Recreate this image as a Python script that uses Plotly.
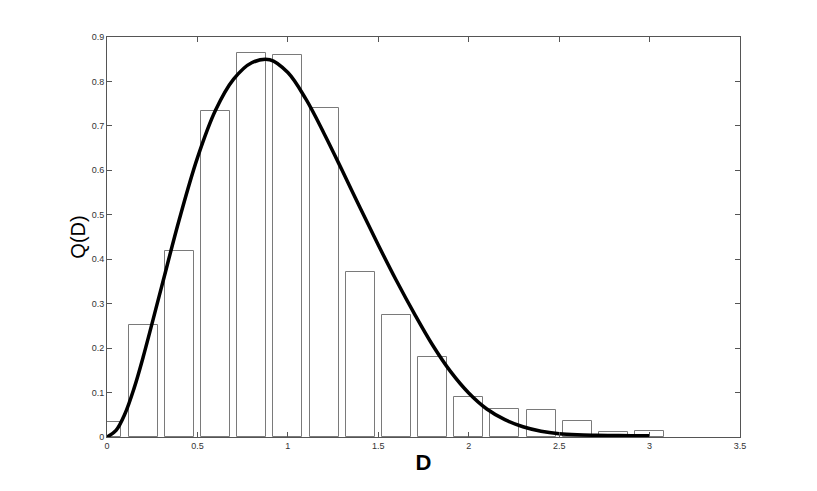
import plotly.graph_objects as go

# histogram bins (centres) and heights
bin_centres = [0.0, 0.2, 0.4, 0.6, 0.8, 1.0, 1.2, 1.4, 1.6, 1.8, 2.0, 2.2, 2.4, 2.6, 2.8, 3.0]
bin_heights = [0.033, 0.253, 0.418, 0.734, 0.863, 0.860, 0.740, 0.372, 0.275, 0.180,
               0.091, 0.064, 0.060, 0.037, 0.011, 0.014]

# fitted curve
curve_d = [0.0, 0.05, 0.1, 0.15, 0.2, 0.3, 0.4, 0.5, 0.6, 0.7, 0.8, 0.9, 1.0,
           1.1, 1.2, 1.3, 1.4, 1.5, 1.6, 1.7, 1.8, 1.9, 2.0, 2.1, 2.2, 2.3, 2.4,
           2.5, 2.6, 2.7, 2.8, 2.9, 3.0]
curve_q = [0.0, 0.015, 0.053, 0.11, 0.18, 0.335, 0.49, 0.628, 0.735, 0.805, 0.842,
           0.849, 0.820, 0.760, 0.683, 0.600, 0.515, 0.432, 0.352, 0.277, 0.207, 0.147,
           0.099, 0.063, 0.039, 0.023, 0.013, 0.0075, 0.005, 0.004, 0.0035, 0.003, 0.003]

x_ticks = [0, 0.5, 1, 1.5, 2, 2.5, 3, 3.5]
x_labels = ["0", "0.5", "1", "1.5", "2", "2.5", "3", "3.5"]
y_ticks = [0, 0.1, 0.2, 0.3, 0.4, 0.5, 0.6, 0.7, 0.8, 0.9]
y_labels = ["0", "0.1", "0.2", "0.3", "0.4", "0.5", "0.6", "0.7", "0.8", "0.9"]

fig = go.Figure()
fig.add_trace(go.Bar(
    x=bin_centres,
    y=bin_heights,
    width=0.16,
    marker=dict(color="white", line=dict(color="#7a7a7a", width=1)),
    showlegend=False,
))
fig.add_trace(go.Scatter(
    x=curve_d,
    y=curve_q,
    mode="lines",
    line=dict(color="black", width=3.5, shape="spline"),
    showlegend=False,
    cliponaxis=False,
))

axis_common = dict(
    showgrid=False,
    zeroline=False,
    showline=True,
    linecolor="#555555",
    linewidth=1,
    mirror="ticks",
    ticks="inside",
    ticklen=5,
    tickcolor="#555555",
    automargin=False,
    tickfont=dict(family="Liberation Sans, Arial", size=9, color="#333333"),
)

# page body adds 8px, so margins are offset to put the box at 107..740 x 37..437
fig.update_layout(
    width=817,
    height=491,
    margin=dict(l=99, r=85, t=29, b=62),
    paper_bgcolor="white",
    plot_bgcolor="white",
    bargap=0,
    xaxis=dict(
        range=[0, 3.5],
        tickvals=x_ticks,
        ticktext=x_labels,
        title=dict(text="<b>D</b>", font=dict(family="Liberation Sans, Arial", size=22, color="black"),
                   standoff=4),
        **axis_common,
    ),
    yaxis=dict(
        range=[0, 0.9],
        tickvals=y_ticks,
        ticktext=y_labels,
        title=dict(text="Q(D)", font=dict(family="Liberation Sans, Arial", size=20, color="black"),
                   standoff=0),
        **axis_common,
    ),
)

fig.write_html("out.html")
